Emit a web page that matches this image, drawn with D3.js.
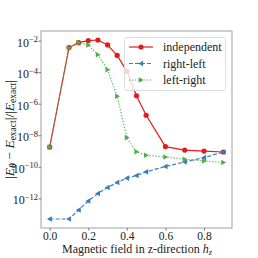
<!DOCTYPE html>
<html>
<head>
<meta charset="utf-8">
<script src="https://cdn.jsdelivr.net/npm/d3@7"></script>
<style>
  html, body { margin: 0; padding: 0; background: #fff; }
  svg text { font-family: "Liberation Serif", "DejaVu Serif", serif; fill: #222; }
</style>
</head>
<body>
<svg id="chart" width="258" height="258"></svg>
<script>
(function () {
    'use strict';

    // ── data ─────────────────────────────────────────────────────────────
    const hz = [0, 0.1, 0.15, 0.2, 0.25, 0.3, 0.35, 0.4, 0.45, 0.5, 0.6, 0.7, 0.8, 0.9];
    // log10 of relative error
    const independent = [-8.75, -2.44, -2.13, -2.0, -1.96, -2.27, -2.94, -3.95, -5.5, -6.73, -8.72, -8.94, -9.0, -9.06];
    const rightLeft   = [-13.31, -13.31, -12.74, -12.17, -11.69, -11.31, -10.99, -10.72, -10.55, -10.32, -9.98, -9.69, -9.42, -9.06];
    const leftRight   = [-8.75, -2.47, -2.13, -2.27, -2.9, -3.85, -5.53, -8.15, -9.05, -9.27, -9.38, -9.52, -9.63, -9.73];

    const seriesNames = ['independent', 'right-left', 'left-right'];
    const xTicks = [0, 0.2, 0.4, 0.6, 0.8];
    const yTickExps = [-2, -4, -6, -8, -10, -12];

    const W = 258, H = 258;
    const M = { left: 41, top: 31, right: 26, bottom: 30 };

    const svg = d3.select('#chart');

    const x = d3.scaleLinear().domain([-0.045, 0.945]).range([M.left, W - M.right]);
    const y = d3.scaleLog().domain([Math.pow(10, -13.88), Math.pow(10, -1.39)]).range([H - M.bottom, M.top]);

    const series = [
        { name: seriesNames[0], vals: independent, color: '#e41a1c', dash: null,  marker: 'circle' },
        { name: seriesNames[1], vals: rightLeft,   color: '#377eb8', dash: '4,2', marker: 'left' },
        { name: seriesNames[2], vals: leftRight,   color: '#4daf4a', dash: '1.2,1.8', marker: 'right' }
    ];

    function markerPath(kind, s) {
        if (kind === 'left')  return `M${-s},0L${s * 0.75},${-s}L${s * 0.75},${s}Z`;
        if (kind === 'right') return `M${s},0L${-s * 0.75},${-s}L${-s * 0.75},${s}Z`;
        return null;
    }

    function drawMarker(g, kind, cx, cy, color) {
        if (kind === 'circle') {
            g.append('circle').attr('cx', cx).attr('cy', cy).attr('r', 2.6).attr('fill', color);
        } else {
            g.append('path').attr('d', markerPath(kind, 2.8))
                .attr('transform', `translate(${cx},${cy})`).attr('fill', color);
        }
    }

    // axes frame
    const frame = svg.append('g');
    frame.append('rect')
        .attr('x', M.left).attr('y', M.top)
        .attr('width', W - M.left - M.right).attr('height', H - M.top - M.bottom)
        .attr('fill', 'none').attr('stroke', '#a0a0a0').attr('stroke-width', 1);

    // x axis
    const xAxis = d3.axisBottom(x).tickValues(xTicks).tickSize(2.5).tickPadding(1)
        .tickFormat(d3.format('.1f'));
    const gx = svg.append('g').attr('transform', `translate(0,${H - M.bottom})`).call(xAxis);
    gx.select('.domain').remove();
    gx.selectAll('line').attr('stroke', '#777');
    gx.selectAll('text').style('font-size', '11.5px').attr('fill', '#222');

    // y axis
    const yAxis = d3.axisLeft(y).tickValues(yTickExps.map(e => Math.pow(10, e))).tickSize(2.5).tickPadding(2)
        .tickFormat('');
    const gy = svg.append('g').attr('transform', `translate(${M.left},0)`).call(yAxis);
    gy.select('.domain').remove();
    gy.selectAll('line').attr('stroke', '#777');
    gy.selectAll('.tick').each(function (d) {
        const e = Math.round(Math.log10(d));
        const t = d3.select(this).append('text')
            .attr('x', -3).attr('dy', '0.45em')
            .attr('text-anchor', 'end').style('font-size', '12px').attr('fill', '#222');
        t.append('tspan').text('10');
        t.append('tspan').attr('dy', '-0.5em').style('font-size', '8.5px').text('\u2212' + (-e));
    });

    // lines + markers
    const plot = svg.append('g');
    series.forEach(s => {
        const pts = hz.map((h, i) => [x(h), y(Math.pow(10, s.vals[i]))]);
        plot.append('path')
            .attr('d', d3.line()(pts))
            .attr('fill', 'none').attr('stroke', s.color).attr('stroke-width', 1.2)
            .attr('stroke-dasharray', s.dash);
        const mg = plot.append('g');
        pts.forEach(p => drawMarker(mg, s.marker, p[0], p[1], s.color));
    });

    // legend
    const lg = svg.append('g');
    lg.append('rect')
        .attr('x', 124.5).attr('y', 37.5).attr('width', 101).attr('height', 53).attr('rx', 2)
        .attr('fill', 'rgba(255,255,255,0.8)').attr('stroke', '#dcdcdc').attr('stroke-width', 1);
    series.forEach((s, i) => {
        const ly = 47 + i * 16.5;
        lg.append('line').attr('x1', 129).attr('x2', 153).attr('y1', ly).attr('y2', ly)
            .attr('stroke', s.color).attr('stroke-width', 1.2).attr('stroke-dasharray', s.dash);
        drawMarker(lg, s.marker, 141, ly, s.color);
        lg.append('text').attr('x', 163).attr('y', ly).attr('dy', '0.35em')
            .style('font-size', '12px').text(s.name);
    });

    // x label
    const xl = svg.append('text')
        .attr('x', (M.left + W - M.right) / 2 + 0.5).attr('y', 253)
        .attr('text-anchor', 'middle').style('font-size', '12px');
    xl.append('tspan').text('Magnetic field in z-direction ');
    xl.append('tspan').style('font-style', 'italic').text('h');
    xl.append('tspan').attr('dy', '2').style('font-size', '8.5px').style('font-style', 'italic').text('z');

    // y label
    const yl = svg.append('text')
        .attr('transform', `translate(14,${(M.top + H - M.bottom) / 2}) rotate(-90)`)
        .attr('text-anchor', 'middle').style('font-size', '13.5px');
    yl.append('tspan').text('|');
    yl.append('tspan').style('font-style', 'italic').text('E');
    yl.append('tspan').attr('dy', '2').style('font-size', '9.5px').style('font-weight', 'bold').style('font-style', 'italic').text('\u03b8');
    yl.append('tspan').attr('dy', '-2').text(' \u2212 ');
    yl.append('tspan').style('font-style', 'italic').text('E');
    yl.append('tspan').attr('dy', '2').style('font-size', '9.5px').text('exact');
    yl.append('tspan').attr('dy', '-2').text('|/|');
    yl.append('tspan').style('font-style', 'italic').text('E');
    yl.append('tspan').attr('dy', '2').style('font-size', '9.5px').text('exact');
    yl.append('tspan').attr('dy', '-2').text('|');
})();
</script>
</body>
</html>
